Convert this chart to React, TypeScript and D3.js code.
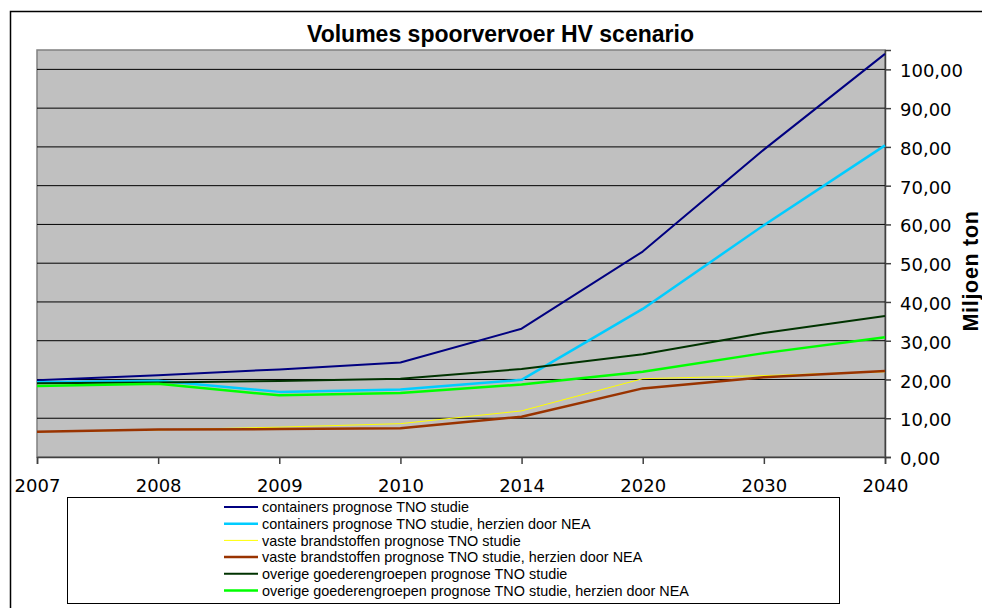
// App.tsx
import { useEffect, useRef } from "react";
import * as d3 from "d3";

//=============================================================== DATA ===============================================================
// Volumes in miljoen ton per category (the x axis is categorical, not a time axis)
const years = ["2007", "2008", "2009", "2010", "2014", "2020", "2030", "2040"];

const containersTNO = [19.8, 21.1, 22.6, 24.4, 33.1, 53.0, 79.3, 104.0];
const containersNEA = [19.3, 19.7, 16.8, 17.4, 19.9, 38.2, 59.8, 80.4];
const brandstoffenTNO = [6.5, 7.0, 7.7, 8.6, 11.9, 20.2, 21.0, 22.0];
const brandstoffenNEA = [6.5, 7.1, 7.2, 7.4, 10.4, 17.7, 20.6, 22.2];
const overigeTNO = [19.0, 19.2, 19.6, 20.2, 22.7, 26.5, 32.0, 36.4];
const overigeNEA = [18.3, 18.9, 15.9, 16.5, 18.7, 22.0, 26.8, 30.9];

const seriesNames = [
  "containers prognose TNO studie",
  "containers prognose TNO studie, herzien door NEA",
  "vaste brandstoffen prognose TNO studie",
  "vaste brandstoffen prognose TNO studie, herzien door NEA",
  "overige goederengroepen prognose TNO studie",
  "overige goederengroepen prognose TNO studie, herzien door NEA",
];

const yTicks = [0, 10, 20, 30, 40, 50, 60, 70, 80, 90, 100];
const yMax = 105;

const chartTitle = "Volumes spoorvervoer HV scenario";
const yAxisTitle = "Miljoen ton";

// styles per series (same order as seriesNames)
const seriesColors = ["#000080", "#00CCFF", "#FFFF00", "#993300", "#003300", "#00FF00"];
const seriesWidths = [2, 2.5, 1, 2.5, 2, 2.5];

const W = 982;
const H = 608;

export default function App() {
  const svgRef = useRef<SVGSVGElement | null>(null);

  useEffect(() => {
    const svg = d3.select(svgRef.current);
    svg.selectAll("*").remove(); // clear previous renders

    const seriesValues = [containersTNO, containersNEA, brandstoffenTNO, brandstoffenNEA, overigeTNO, overigeNEA];

    //=============================================================== SCALES ===============================================================
    const plot = { left: 37, top: 50, right: 885, bottom: 457 };
    const x = d3.scalePoint<string>().domain(years).range([plot.left, plot.right]);
    const y = d3.scaleLinear().domain([0, yMax]).range([plot.bottom, plot.top]);

    // dutch number format -> 100,00
    const nl = d3.formatLocale({ decimal: ",", thousands: ".", grouping: [3], currency: ["€", ""] });
    const fmt = nl.format(".2f");

    //=============================================================== CHART FRAME ===============================================================
    svg.append("rect").attr("width", W).attr("height", H).attr("fill", "#fff");
    // outer chart border runs off the right and bottom of the picture
    svg.append("rect")
      .attr("x", 10.5).attr("y", 11.5)
      .attr("width", W + 20).attr("height", H + 20)
      .attr("fill", "none").attr("stroke", "#000").attr("stroke-width", 1.5);

    svg.append("text")
      .attr("x", 500.5).attr("y", 42)
      .attr("text-anchor", "middle")
      .attr("font-family", "'Liberation Sans', Arial, sans-serif")
      .attr("font-weight", "bold")
      .attr("font-size", 23)
      .attr("fill", "#000")
      .text(chartTitle);

    //=============================================================== PLOT AREA ===============================================================
    svg.append("rect")
      .attr("x", plot.left).attr("y", plot.top)
      .attr("width", plot.right - plot.left).attr("height", plot.bottom - plot.top)
      .attr("fill", "#C0C0C0").attr("stroke", "#808080").attr("stroke-width", 1.5);

    // horizontal gridlines
    svg.append("g")
      .selectAll("line")
      .data(yTicks.filter((t) => t > 0))
      .join("line")
      .attr("x1", plot.left).attr("x2", plot.right)
      .attr("y1", (d) => y(d)).attr("y2", (d) => y(d))
      .attr("stroke", "#000").attr("stroke-width", 1);

    //=============================================================== AXES ===============================================================
    // y axis sits on the right of the plot
    const yAxis = d3.axisRight(y).tickValues(yTicks).tickSize(6).tickPadding(9).tickFormat((d) => fmt(d as number));
    const gy = svg.append("g").attr("transform", `translate(${plot.right},0)`).call(yAxis);
    gy.select(".domain").attr("stroke", "#404040").attr("stroke-width", 1.5);
    gy.selectAll(".tick line").attr("stroke", "#404040").attr("stroke-width", 1.5);
    gy.selectAll(".tick text")
      .attr("font-family", "'DejaVu Sans', Verdana, sans-serif")
      .attr("font-size", 18)
      .attr("fill", "#000")
      .attr("dy", "0.42em");

    const xAxis = d3.axisBottom(x).tickSize(7).tickPadding(15);
    const gx = svg.append("g").attr("transform", `translate(0,${plot.bottom})`).call(xAxis);
    gx.select(".domain").attr("stroke", "#404040").attr("stroke-width", 1.5);
    gx.selectAll(".tick line").attr("stroke", "#404040").attr("stroke-width", 1.5);
    gx.selectAll(".tick text")
      .attr("font-family", "'DejaVu Sans', Verdana, sans-serif")
      .attr("font-size", 18)
      .attr("fill", "#000");

    // axis title is cut by the right edge in the original too, keep it just inside
    svg.append("text")
      .attr("transform", `translate(978,271) rotate(-90)`)
      .attr("text-anchor", "middle")
      .attr("font-family", "'Liberation Sans', Arial, sans-serif")
      .attr("font-weight", "bold")
      .attr("font-size", 21.5)
      .attr("letter-spacing", 0.7)
      .attr("fill", "#000")
      .text(yAxisTitle);

    //=============================================================== LINES ===============================================================
    const line = d3.line<number>().x((_, i) => x(years[i]) as number).y((d) => y(d));

    svg.append("g")
      .selectAll("path")
      .data(seriesValues)
      .join("path")
      .attr("d", (d) => line(d))
      .attr("fill", "none")
      .attr("stroke", (_, i) => seriesColors[i])
      .attr("stroke-width", (_, i) => seriesWidths[i])
      .attr("stroke-linejoin", "round");

    //=============================================================== LEGEND ===============================================================
    svg.append("rect")
      .attr("x", 67.5).attr("y", 497.5)
      .attr("width", 772).attr("height", 106)
      .attr("fill", "#fff").attr("stroke", "#000").attr("stroke-width", 1);

    const legendItem = svg.append("g")
      .selectAll("g")
      .data(seriesNames)
      .join("g")
      .attr("transform", (_, i) => `translate(224,${507 + i * 16.7})`);

    legendItem.append("line")
      .attr("x1", 0).attr("x2", 34)
      .attr("stroke", (_, i) => seriesColors[i])
      .attr("stroke-width", (_, i) => seriesWidths[i]);

    legendItem.append("text")
      .attr("x", 38)
      .attr("dy", "0.36em")
      .attr("font-family", "'Liberation Sans', Arial, sans-serif")
      .attr("font-size", 14.4)
      .attr("fill", "#000")
      .text((d) => d);
  }, []);

  return (
    <div style={{ position: "absolute", left: 0, top: 0 }}>
      <svg ref={svgRef} width={W} height={H} />
    </div>
  );
}
